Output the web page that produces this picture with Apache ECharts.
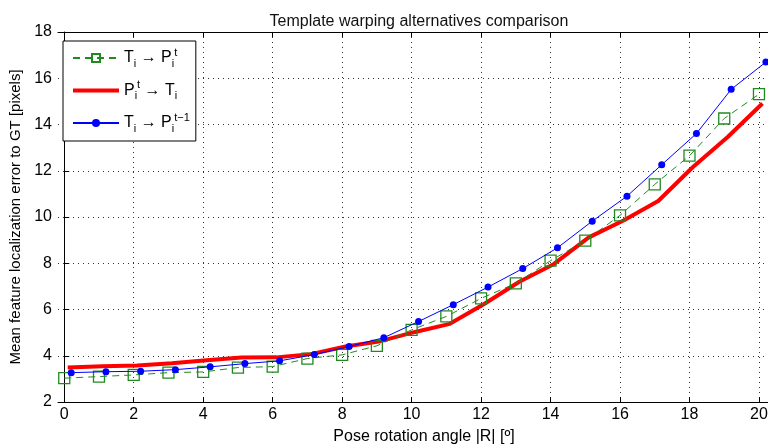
<!DOCTYPE html>
<html>
<head>
<meta charset="utf-8">
<script src="https://cdn.jsdelivr.net/npm/echarts@6/dist/echarts.min.js"></script>
<style>
  html, body { margin: 0; padding: 0; background: #fff; }
  #chart { width: 768px; height: 446px; }
</style>
</head>
<body>
<div id="chart"></div>
<script>
// rotation angles 0..20
const angles = [0, 1, 2, 3, 4, 5, 6, 7, 8, 9, 10, 11, 12, 13, 14, 15, 16, 17, 18, 19, 20];
const xTicks = [0, 2, 4, 6, 8, 10, 12, 14, 16, 18, 20];

// T_i -> P_i^t
const fwdErr = [3.03, 3.10, 3.17, 3.27, 3.30, 3.49, 3.53, 3.88, 4.04, 4.43, 5.12,
  5.70, 6.48, 7.13, 8.11, 8.98, 10.07, 11.41, 12.65, 14.26, 15.31];
// P_i^t -> T_i
const invErr = [3.49, 3.55, 3.58, 3.68, 3.81, 3.92, 3.93, 4.07, 4.40, 4.63, 5.03,
  5.38, 6.25, 7.20, 7.97, 9.12, 9.85, 10.69, 12.16, 13.46, 14.91];
// T_i -> P_i^(t-1)
const prevErr = [3.27, 3.31, 3.33, 3.40, 3.52, 3.66, 3.78, 4.05, 4.40, 4.78, 5.48,
  6.21, 6.97, 7.77, 8.67, 9.82, 10.90, 12.26, 13.61, 15.52, 16.70];

// the three curves are drawn slightly shifted along x, like the original plot
const pairs = (vals, shift) => vals.map((v, i) => [angles[i] + shift, v]);

const font = 'Liberation Sans, Arial, Helvetica, sans-serif';
const legendText = {
  fwd: '{n|T}{s|i}{n| → P}{s|i}{p|t}',
  inv: '{n|P}{s|i}{p|t}{n| → T}{s|i}',
  prev: '{n|T}{s|i}{n| → P}{s|i}{p|t−1}'
};

const myChart = echarts.init(document.getElementById('chart'));
const option = {
  backgroundColor: '#fff',
  animation: false,
  textStyle: { fontFamily: font },
  title: {
    text: 'Template warping alternatives comparison',
    left: 414,
    textAlign: 'center',
    top: 9,
    textStyle: { fontFamily: font, fontSize: 16, fontWeight: 'normal', color: '#111' }
  },
  grid: { left: 58, right: 0, top: 32, bottom: 44, containLabel: false, outerBoundsMode: 'none' },
  legend: {
    orient: 'vertical',
    left: 63,
    top: 41,
    padding: [6, 6, 7, 9],
    itemWidth: 46,
    itemHeight: 10,
    itemGap: 10.5,
    backgroundColor: '#fff',
    borderColor: '#000',
    borderWidth: 1,
    borderRadius: 0,
    formatter: name => legendText[name],
    textStyle: {
      rich: {
        n: { fontSize: 16, color: '#000', fontFamily: font, lineHeight: 22 },
        s: { fontSize: 11, color: '#000', fontFamily: font, verticalAlign: 'bottom', padding: [8, 0, 0, 0] },
        p: { fontSize: 11, color: '#000', fontFamily: font, verticalAlign: 'top', padding: [0, 0, 8, 0] }
      }
    },
    data: ['fwd', { name: 'inv', icon: 'path://M0,0H46V4H0Z' }, 'prev']
  },
  xAxis: [
    {
      type: 'value',
      min: -0.18,
      max: 20.26,
      name: 'Pose rotation angle |R| [º]',
      nameLocation: 'middle',
      nameGap: 27,
      nameTextStyle: { fontFamily: font, fontSize: 16, color: '#000', padding: [0, 0, 0, 22] },
      axisLine: { show: true, lineStyle: { color: '#000', width: 1 } },
      axisTick: { show: true, inside: true, length: 5, customValues: xTicks, lineStyle: { color: '#000' } },
      axisLabel: { customValues: xTicks, fontFamily: font, fontSize: 16, color: '#000', margin: 5 },
      splitLine: { show: true, lineStyle: { color: '#333', type: [1, 4], width: 1 } }
    },
    {
      type: 'value',
      position: 'top',
      min: -0.18,
      max: 20.26,
      axisLine: { show: true, lineStyle: { color: '#000', width: 1 } },
      axisTick: { show: true, inside: true, length: 5, customValues: xTicks, lineStyle: { color: '#000' } },
      axisLabel: { show: false },
      splitLine: { show: false }
    }
  ],
  yAxis: {
    type: 'value',
    min: 2,
    max: 18,
    interval: 2,
    name: 'Mean feature localization error to GT [pixels]',
    nameLocation: 'middle',
    nameGap: 32,
    nameTextStyle: { fontFamily: font, fontSize: 15, color: '#000' },
    axisLine: { show: true, lineStyle: { color: '#000', width: 1 } },
    axisTick: { show: true, inside: true, length: 5, lineStyle: { color: '#000' } },
    axisLabel: { fontFamily: font, fontSize: 16, color: '#000', margin: 6 },
    splitLine: { show: true, lineStyle: { color: '#333', type: [1, 4], width: 1 } }
  },
  series: [
    {
      name: 'fwd',
      type: 'line',
      data: pairs(fwdErr, 0),
      symbol: 'rect',
      symbolSize: 11,
      clip: false,
      z: 3,
      lineStyle: { color: '#1f8a1f', width: 1, type: [7, 5] },
      itemStyle: { color: 'rgba(0,0,0,0)', borderColor: '#1f8a1f', borderWidth: 1.3 }
    },
    {
      name: 'inv',
      type: 'line',
      data: pairs(invErr, 0.1),
      showSymbol: false,
      symbol: 'none',
      clip: false,
      z: 2,
      lineStyle: { color: '#ff0000', width: 4 },
      itemStyle: { color: '#ff0000' }
    },
    {
      name: 'prev',
      type: 'line',
      data: pairs(prevErr, 0.2),
      symbol: 'circle',
      symbolSize: 7,
      clip: false,
      z: 4,
      lineStyle: { color: '#0000ff', width: 1 },
      itemStyle: { color: '#0000ff' }
    }
  ]
};
myChart.setOption(option);
</script>
</body>
</html>
